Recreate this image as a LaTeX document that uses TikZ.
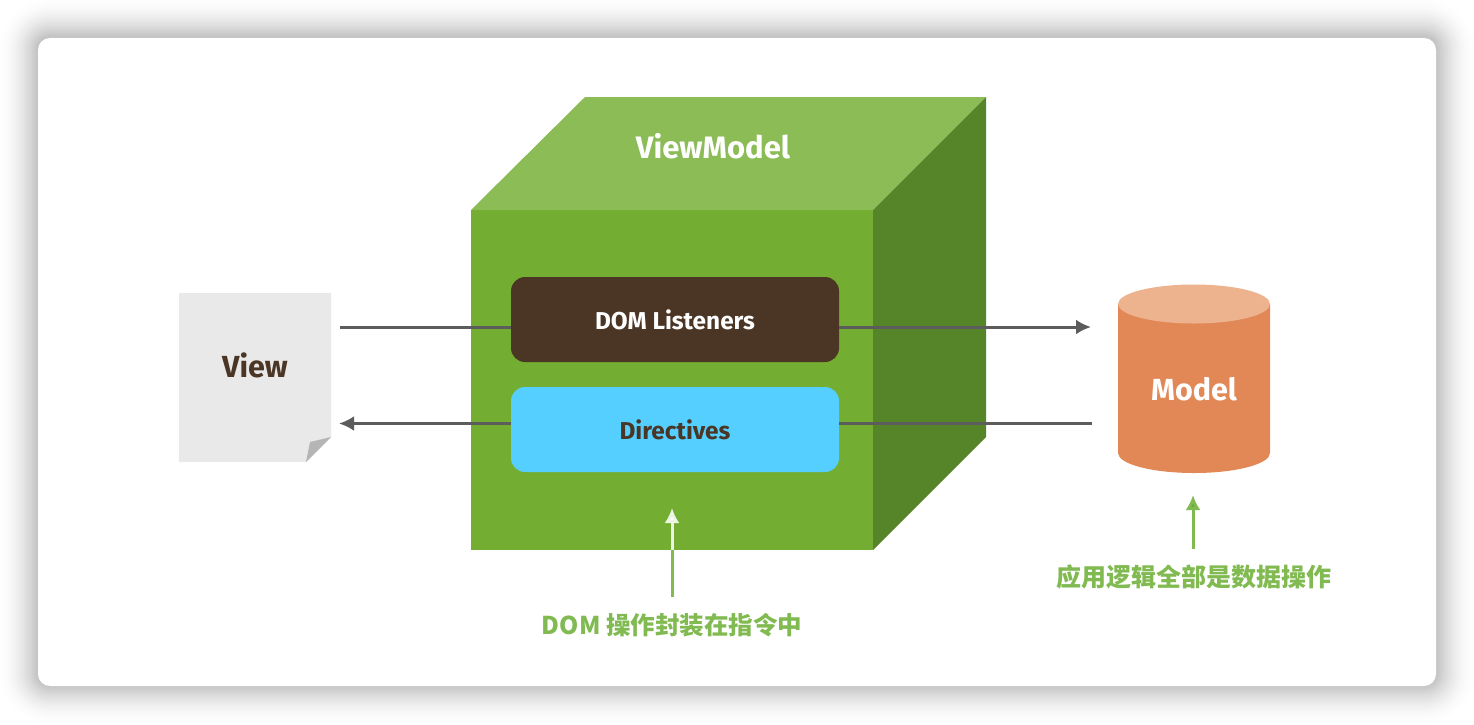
\documentclass[tikz,border=0pt]{standalone}
\usepackage{fontspec}
\setmainfont{Fira Sans}
\newfontfamily\cjk{Noto Sans CJK SC}
\usetikzlibrary{arrows.meta}
\definecolor{cubefront}{HTML}{73AE32}
\definecolor{cubetop}{HTML}{8BBC55}
\definecolor{cubeside}{HTML}{568429}
\definecolor{listener}{HTML}{4B3625}
\definecolor{directive}{HTML}{55CFFF}
\definecolor{modelbody}{HTML}{E28856}
\definecolor{modeltop}{HTML}{EDB38F}
\definecolor{paper}{HTML}{E9E9E9}
\definecolor{paperfold}{HTML}{B5B5B5}
\definecolor{wire}{HTML}{5C5C5C}
\definecolor{note}{HTML}{80BA50}
\definecolor{notehead}{HTML}{65A838}
\tikzset{
  x=1pt,y=-1pt,
  label font/.style={font=\bfseries\fontsize{#1}{#1}\selectfont},
  innerbox/.style={rounded corners=14pt,minimum width=328pt,minimum height=85pt,inner sep=0pt,label font=24.4},
  wireline/.style={draw=wire,line width=3pt},
  wirearrow/.style={wireline,-{Latex[length=15pt,width=15pt]}},
  notetext/.style={text=note,inner sep=0pt,label font=25},
  notearrow/.style={draw=note,line width=3pt,-{Latex[length=15pt,width=15pt,fill=notehead]}},
}
\begin{document}
\begin{tikzpicture}
\useasboundingbox (0,0) rectangle (1474,724);
\fill[white] (0,0) rectangle (1474,724);
% card shadow
\foreach \i in {38,36,...,2}{
  \pgfmathsetmacro{\op}{0.023*(1-\i/43)}
  \fill[black,opacity=\op,rounded corners={12pt+\i*1pt}]
    (38-\i,37-\i) rectangle (1436+\i,685+\i);
}
\node[fill=white,rounded corners=12pt,minimum width=1398pt,minimum height=648pt,inner sep=0pt] (card) at (737,362) {};
% cube
\fill[cubefront] (471,210) rectangle (873,550);
\fill[cubetop] (471,210) -- (585,97) -- (986,97) -- (873,210) -- cycle;
\fill[cubeside] (873,210) -- (986,97) -- (986,437) -- (873,550) -- cycle;
\node[text=white,label font=31] (vm) at (713,146) {ViewModel};
% view page
\fill[paper] (179,293) -- (331,293) -- (331,437) -- (306,462) -- (179,462) -- cycle;
\fill[paperfold] (331,437) -- (310,442) -- (306,462) -- cycle;
\node[text=listener,label font=30.5] (view) at (255,365) {View};
% model cylinder
\fill[modelbody] (1118,304) -- (1118,453) arc[start angle=180,end angle=0,x radius=76,y radius=20] -- (1270,304) -- cycle;
\fill[modeltop] (1194,304) ellipse[x radius=76,y radius=19.5];
\node[text=white,label font=30.5] (model) at (1194,389) {Model};
% inner boxes
\node[innerbox,fill=listener,text=white] (dom) at (675,319.5) {\raisebox{-1pt}{DOM Listeners}};
\node[innerbox,fill=directive,text=listener] (dir) at (675,429.5) {\raisebox{-1pt}{Directives}};
% connectors
\coordinate (viewout) at (340,327);
\coordinate (viewin) at (339,423.5);
\coordinate (modelin) at (1091,327);
\coordinate (modelout) at (1092,423.5);
\draw[wireline] (viewout) -- (viewout -| dom.west);
\draw[wirearrow] (modelin -| dom.east) -- (modelin);
\draw[wireline] (modelout) -- (modelout -| dir.east);
\draw[wirearrow] (viewin -| dir.west) -- (viewin);
% notes
\node[notetext,label font=24.5] (note1) at (672,625) {\cjk DOM 操作封装在指令中};
\node[notetext] (note2) at (1193.5,577) {\cjk 应用逻辑全部是数据操作};
\coordinate (edge) at (672,550);
\coordinate (tip1) at (672,508);
\coordinate (tail1) at (672,597);
\coordinate (tip2) at (1193,495);
\coordinate (tail2) at (1193,549);
\draw[draw=note,line width=3pt] (tail1) -- (edge);
\draw[draw=white!85!note,line width=3pt,-{Latex[length=15pt,width=15pt,fill=white]}] (edge) -- (tip1);
\draw[notearrow] (tail2) -- (tip2);
\end{tikzpicture}
\end{document}
